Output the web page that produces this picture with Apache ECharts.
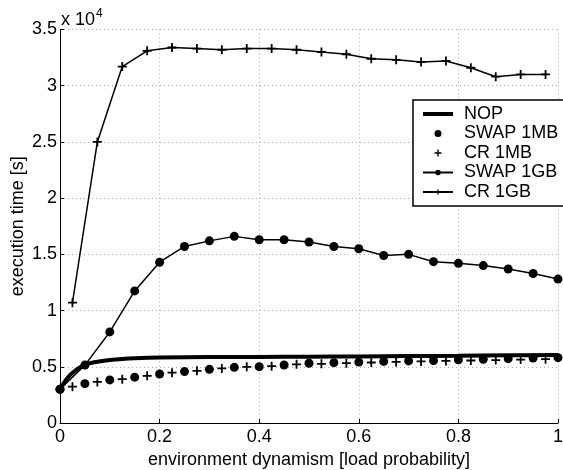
<!DOCTYPE html>
<html>
<head>
<meta charset="utf-8">
<script src="https://cdn.jsdelivr.net/npm/echarts@6/dist/echarts.min.js"></script>
<style>
  html, body { margin: 0; padding: 0; background: #fff; }
  #chart { width: 563px; height: 470px; }
</style>
</head>
<body>
<div id="chart"></div>
<script>
// x positions
var xSwap = [0, 0.05, 0.1, 0.15, 0.2, 0.25, 0.3, 0.35, 0.4, 0.45, 0.5, 0.55, 0.6, 0.65, 0.7, 0.75, 0.8, 0.85, 0.9, 0.95, 1.0];
var xCr = [0.025, 0.075, 0.125, 0.175, 0.225, 0.275, 0.325, 0.375, 0.425, 0.475, 0.525, 0.575, 0.625, 0.675, 0.725, 0.775, 0.825, 0.875, 0.925, 0.975];
var xNop = [0, 0.01, 0.02, 0.03, 0.04, 0.05, 0.075, 0.1, 0.125, 0.15, 0.2, 0.3, 0.4, 0.5, 0.6, 0.7, 0.8, 0.9, 1.0];

// execution time [s]
var nop = [3000, 3700, 4250, 4650, 4950, 5200, 5450, 5600, 5700, 5760, 5820, 5860, 5880, 5900, 5920, 5950, 5980, 6020, 6050];
var swap1MB = [3000, 3500, 3830, 4080, 4360, 4570, 4770, 4950, 5010, 5160, 5310, 5370, 5420, 5480, 5520, 5560, 5620, 5670, 5720, 5780, 5810];
var cr1MB = [3230, 3650, 3900, 4200, 4480, 4640, 4850, 5000, 5050, 5220, 5260, 5320, 5380, 5430, 5480, 5520, 5560, 5600, 5640, 5680];
var swap1GB = [3000, 5150, 8100, 11750, 14300, 15700, 16200, 16600, 16300, 16300, 16100, 15700, 15500, 14900, 15000, 14350, 14200, 14000, 13700, 13300, 12800];
var cr1GB = [10700, 25000, 31700, 33100, 33400, 33300, 33200, 33300, 33300, 33200, 33000, 32800, 32400, 32300, 32100, 32200, 31600, 30800, 31000, 31000];

function pairs(xs, ys) {
  var out = [];
  for (var i = 0; i < xs.length; i++) out.push([xs[i], ys[i]]);
  return out;
}

var FONT = '"Liberation Sans", Arial, Helvetica, sans-serif';
var FS = 18;
var plus = 'path://M4,0h2v4h4v2h-4v4h-2v-4h-4v-2h4z';
var thickLine = 'path://M0,0H30V4H0Z';

var myChart = echarts.init(document.getElementById('chart'));

var option = {
  animation: false,
  backgroundColor: '#fff',
  textStyle: { fontFamily: FONT },
  grid: { left: 60, top: 29.5, right: 5, bottom: 47, containLabel: false, outerBoundsMode: 'none' },
  legend: {
    data: [
      { name: 'NOP', icon: thickLine },
      'SWAP 1MB', 'CR 1MB', 'SWAP 1GB', 'CR 1GB'
    ],
    orient: 'vertical',
    left: 413,
    top: 100,
    itemWidth: 30,
    itemHeight: 7,
    itemGap: 1.5,
    padding: [5, 30, 5, 9],
    borderColor: '#000',
    borderWidth: 1.5,
    backgroundColor: '#fff',
    textStyle: { fontFamily: FONT, fontSize: FS, color: '#000', padding: [0, 0, 0, 6] }
  },
  xAxis: {
    type: 'value',
    min: 0, max: 1, interval: 0.2,
    name: 'environment dynamism [load probability]',
    nameLocation: 'middle',
    nameGap: 26,
    nameTextStyle: { fontSize: FS, color: '#000', fontFamily: FONT },
    axisLine: { lineStyle: { color: '#000', width: 1 } },
    axisTick: { inside: true, length: 4, lineStyle: { color: '#000' } },
    axisLabel: { fontSize: FS, color: '#000', margin: 5, fontFamily: FONT,
      formatter: function (v) { return String(+v.toFixed(1)); } },
    splitLine: { show: true, lineStyle: { color: '#aaa', type: [1, 3], width: 1 } }
  },
  yAxis: {
    type: 'value',
    min: 0, max: 35000, interval: 5000,
    name: 'execution time [s]',
    nameLocation: 'middle',
    nameGap: 33,
    nameMoveOverlap: false,
    nameTextStyle: { fontSize: FS, color: '#000', fontFamily: FONT },
    axisLine: { show: true, lineStyle: { color: '#000', width: 1 } },
    axisTick: { show: true, inside: true, length: 4, lineStyle: { color: '#000' } },
    axisLabel: { fontSize: FS, color: '#000', margin: 3, fontFamily: FONT,
      formatter: function (v) { return String(v / 10000); } },
    splitLine: { show: true, lineStyle: { color: '#aaa', type: [1, 3], width: 1 } }
  },
  graphic: [{
    type: 'text',
    left: 61,
    top: 8,
    style: {
      text: '{b|x 10}{s|4}',
      rich: {
        b: { fontSize: FS, fontFamily: FONT, fill: '#000', verticalAlign: 'bottom' },
        s: { fontSize: 12, fontFamily: FONT, fill: '#000', verticalAlign: 'top', padding: [0, 0, 9, 1] }
      }
    }
  }],
  series: [{
    name: 'NOP',
    type: 'line',
    data: pairs(xNop, nop),
    smooth: 0.4,
    symbol: 'none',
    z: 3,
    lineStyle: { color: '#000', width: 4 },
    itemStyle: { color: '#000' }
  }, {
    name: 'SWAP 1MB',
    type: 'scatter',
    data: pairs(xSwap, swap1MB),
    symbol: 'circle',
    symbolSize: 9,
    itemStyle: { color: '#000', opacity: 1 }
  }, {
    name: 'CR 1MB',
    type: 'scatter',
    data: pairs(xCr, cr1MB),
    symbol: plus,
    symbolSize: 9,
    itemStyle: { color: '#000', opacity: 1 }
  }, {
    name: 'SWAP 1GB',
    type: 'line',
    data: pairs(xSwap, swap1GB),
    symbol: 'circle',
    symbolSize: 9,
    showAllSymbol: true,
    lineStyle: { color: '#000', width: 1.5 },
    itemStyle: { color: '#000' }
  }, {
    name: 'CR 1GB',
    type: 'line',
    data: pairs(xCr, cr1GB),
    symbol: plus,
    symbolSize: 9,
    showAllSymbol: true,
    lineStyle: { color: '#000', width: 1.5 },
    itemStyle: { color: '#000' }
  }]
};

myChart.setOption(option);
</script>
</body>
</html>
